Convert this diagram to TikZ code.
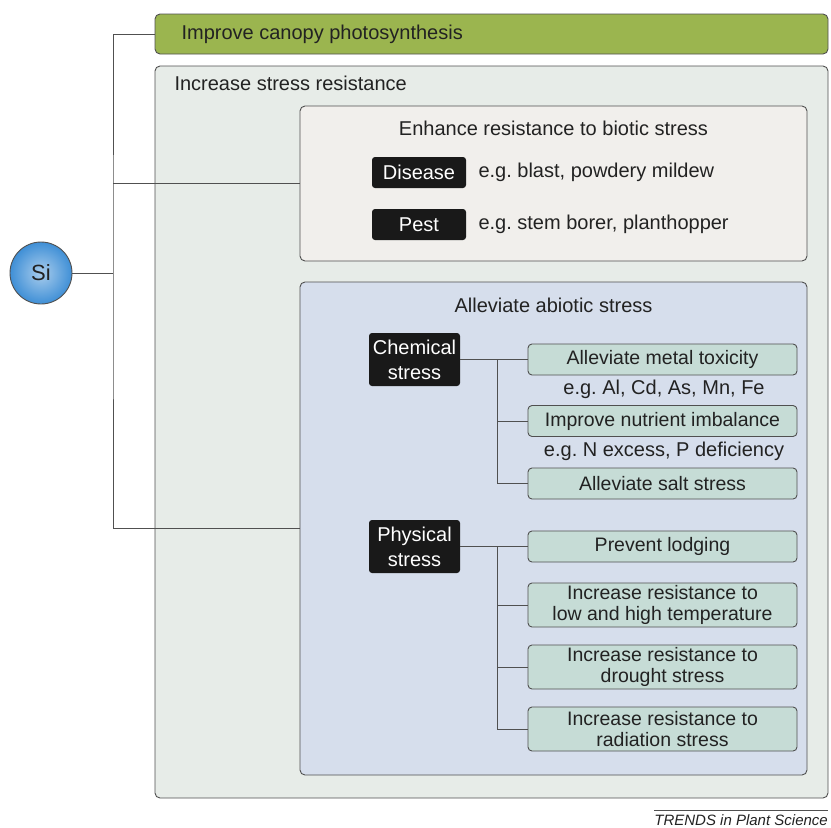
\documentclass[tikz,border=0pt]{standalone}
\usepackage{fontspec}
\setmainfont{Liberation Sans}
\frenchspacing
\begin{document}
\frenchspacing
\definecolor{linegray}{HTML}{505050}
\definecolor{leaf}{HTML}{9BB54F}
\definecolor{panel}{HTML}{E7ECE8}
\definecolor{biofill}{HTML}{F1EFEC}
\definecolor{abiofill}{HTML}{D6DEEC}
\definecolor{tealfill}{HTML}{C6DCD6}
\definecolor{txt}{HTML}{222222}
\definecolor{siblue}{HTML}{3F8FD6}
\begin{tikzpicture}[x=1pt,y=-1pt,
  every node/.style={font=\fontsize{20}{23}\selectfont, text=txt},
  frame/.style={draw=linegray, line width=0.9pt, rounded corners=5pt, inner sep=0pt},
  blk/.style={fill=black!90, rounded corners=3pt, inner sep=0pt, text=white, align=center,
              minimum width=94pt, font=\fontsize{20}{23}\selectfont},
  item/.style={frame, fill=tealfill, minimum width=269pt, align=center, rounded corners=4pt,
               font=\fontsize{19.5}{21}\selectfont},
  conn/.style={draw=linegray, line width=0.9pt}]
\useasboundingbox (0,0) rectangle (831,828);
% containers
\node[frame, fill=leaf, minimum width=673pt, minimum height=40pt] (green) at (491.5,34) {};
\node[anchor=west] (greentxt) at (178,34) {Improve canopy photosynthesis};
\node[frame, fill=panel, minimum width=673pt, minimum height=732pt] (panel) at (491.5,432) {};
\node[anchor=west] (paneltxt) at (171,83) {Increase stress resistance};
\node[frame, fill=biofill, minimum width=507pt, minimum height=155pt] (biotic) at (553.5,183.5) {};
\node (biotictxt) at (553.5,128) {Enhance resistance to biotic stress};
\node[frame, fill=abiofill, minimum width=507pt, minimum height=493pt] (abiotic) at (553.5,528.5) {};
\node (abiotictxt) at (553.5,305) {Alleviate abiotic stress};
% biotic
\node[blk, minimum height=31pt] (disease) at (419,172.5) {Disease};
\node[anchor=west] (diseasetxt) at (475,172.5) {e.g. blast, powdery mildew};
\node[blk, minimum height=31pt] (pest) at (419,224.5) {Pest};
\node[anchor=west] (pesttxt) at (475,224.5) {e.g. stem borer, planthopper};
% abiotic chemical
\node[blk, minimum width=91pt, minimum height=53pt, font=\fontsize{20}{25}\selectfont] (chem) at (414.5,359.5) {Chemical\\stress};
\node[item, minimum height=31pt] (metal) at (662.5,359.5) {Alleviate metal toxicity};
\node (metaltxt) at (664,389) {e.g. Al, Cd, As, Mn, Fe};
\node[item, minimum height=31pt] (nutrient) at (662.5,421) {Improve nutrient imbalance};
\node (nutrienttxt) at (664,451) {e.g. N excess, P deficiency};
\node[item, minimum height=31pt] (salt) at (662.5,483.5) {Alleviate salt stress};
% abiotic physical
\node[blk, minimum width=91pt, minimum height=53pt, font=\fontsize{20}{25}\selectfont] (phys) at (414.5,546.5) {Physical\\stress};
\node[item, minimum height=31pt] (lodging) at (662.5,546.5) {Prevent lodging};
\node[item, minimum height=44pt] (temp) at (662.5,605) {Increase resistance to\\low and high temperature};
\node[item, minimum height=44pt] (drought) at (662.5,667) {Increase resistance to\\drought stress};
\node[item, minimum height=44pt] (rad) at (662.5,729) {Increase resistance to\\radiation stress};
% Si
\node[circle, draw=linegray, line width=0.9pt, inner color=siblue!45, outer color=siblue,
      minimum size=62pt, inner sep=0pt, font=\fontsize{22}{24}\selectfont] (si) at (41,273) {Si};
% connectors
\coordinate (bus) at (113,273);
\coordinate (cbus) at (497,359.5);
\draw[conn] (si.east) -- (bus);
\draw[conn] (green.west) -| (bus) |- (abiotic.west);
\draw[conn] (biotic.west) -- (biotic.west -| bus);
\draw[conn] (chem.east) -- (metal.west);
\draw[conn] (cbus) |- (salt.west);
\draw[conn] (nutrient.west) -- (nutrient.west -| cbus);
\draw[conn] (phys.east) -- (lodging.west);
\draw[conn] (phys.east -| cbus) |- (rad.west);
\draw[conn] (temp.west) -- (temp.west -| cbus);
\draw[conn] (drought.west) -- (drought.west -| cbus);
% credit
\node[anchor=south east, inner sep=0pt, font=\fontsize{15}{17}\selectfont\itshape] (credit) at (828,826) {TRENDS in Plant Science};
\draw[line width=0.6pt, draw=linegray] (credit.north west) ++(0,-4) coordinate (cl) -- (cl -| credit.north east);
\end{tikzpicture}
\end{document}
